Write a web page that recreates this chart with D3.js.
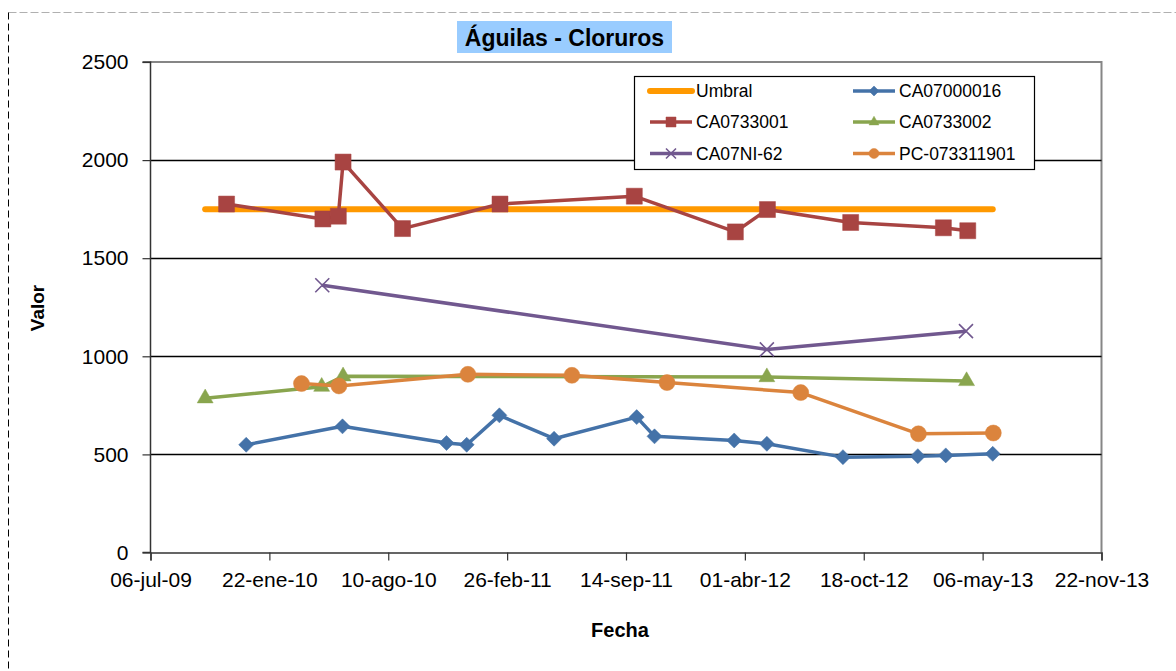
<!DOCTYPE html>
<html>
<head>
<meta charset="utf-8">
<script src="https://cdn.jsdelivr.net/npm/d3@7"></script>
<style>
  body { margin: 0; background: #fff; }
  text { font-family: "Liberation Sans", Arial, sans-serif; }
</style>
</head>
<body>
<div id="chart"></div>
<script>
(function () {

// ---- data ----
const xTicks = ["2009-07-06", "2010-01-22", "2010-08-10", "2011-02-26", "2011-09-14",
                "2012-04-01", "2012-10-18", "2013-05-06", "2013-11-22"];
const yTicks = [0, 500, 1000, 1500, 2000, 2500];

const umbralDates  = ["2009-10-06", "2013-05-23"];
const umbralValues = [1750, 1750];

const ca07000016Dates = ["2009-12-14", "2010-05-25", "2010-11-16", "2010-12-20", "2011-02-13",
                         "2011-05-16", "2011-10-02", "2011-11-01", "2012-03-14", "2012-05-08",
                         "2012-09-13", "2013-01-17", "2013-03-05", "2013-05-23"];
const ca07000016Values = [549, 643, 558, 549, 699, 580, 690, 592, 571, 554, 486, 491, 495, 503];

const ca0733001Dates = ["2009-11-11", "2010-04-22", "2010-05-18", "2010-05-26", "2010-09-03",
                        "2011-02-14", "2011-09-28", "2012-03-16", "2012-05-09", "2012-09-26",
                        "2013-03-01", "2013-04-11"];
const ca0733001Values = [1776, 1700, 1714, 1990, 1651, 1776, 1816, 1634, 1748, 1682, 1655, 1640];

const ca0733002Dates  = ["2009-10-06", "2010-04-20", "2010-05-26", "2012-05-08", "2013-04-09"];
const ca0733002Values = [786, 845, 898, 894, 874];

const ca07ni62Dates  = ["2010-04-21", "2012-05-08", "2013-04-08"];
const ca07ni62Values = [1362, 1035, 1128];

const pc073311901Dates  = ["2010-03-17", "2010-05-19", "2010-12-22", "2011-06-15", "2011-11-22",
                           "2012-07-04", "2013-01-18", "2013-05-24"];
const pc073311901Values = [861, 849, 908, 903, 866, 815, 605, 609];

const seriesNames = ["Umbral", "CA07000016", "CA0733001", "CA0733002", "CA07NI-62", "PC-073311901"];

// ---- layout ----
const W = 1176, H = 671;
const plot = {left: 150.5, right: 1101.5, top: 62, bottom: 552.5};

const parse = d3.utcParse("%Y-%m-%d");
const es = d3.timeFormatLocale({
  dateTime: "%A, %e de %B de %Y, %X", date: "%d/%m/%Y", time: "%H:%M:%S",
  periods: ["AM", "PM"],
  days: ["domingo", "lunes", "martes", "miércoles", "jueves", "viernes", "sábado"],
  shortDays: ["dom", "lun", "mar", "mié", "jue", "vie", "sáb"],
  months: ["enero", "febrero", "marzo", "abril", "mayo", "junio", "julio", "agosto",
           "septiembre", "octubre", "noviembre", "diciembre"],
  shortMonths: ["ene", "feb", "mar", "abr", "may", "jun", "jul", "ago", "sep", "oct", "nov", "dic"]
});
const fmt = es.utcFormat("%d-%b-%y");

const x = d3.scaleUtc()
  .domain([parse(xTicks[0]), parse(xTicks[xTicks.length - 1])])
  .range([plot.left, plot.right]);
const y = d3.scaleLinear().domain([0, 2500]).range([plot.bottom, plot.top]);

const zip = (ds, vs) => ds.map((d, i) => ({date: parse(d), value: vs[i]}));

// name, points, colour, line width, marker
const series = [
  {name: seriesNames[0], pts: zip(umbralDates, umbralValues), color: "#ff9900", lw: 6, marker: null},
  {name: seriesNames[1], pts: zip(ca07000016Dates, ca07000016Values), color: "#4472a8", lw: 3.5, marker: "diamond"},
  {name: seriesNames[2], pts: zip(ca0733001Dates, ca0733001Values), color: "#a84442", lw: 3.5, marker: "square"},
  {name: seriesNames[3], pts: zip(ca0733002Dates, ca0733002Values), color: "#89a54e", lw: 3.5, marker: "triangle"},
  {name: seriesNames[4], pts: zip(ca07ni62Dates, ca07ni62Values), color: "#71588f", lw: 3.5, marker: "x"},
  {name: seriesNames[5], pts: zip(pc073311901Dates, pc073311901Values), color: "#db843d", lw: 3.5, marker: "circle"}
];

const svg = d3.select("#chart").append("svg")
  .attr("width", W).attr("height", H);

// outer dashed frame (only top + left show)
svg.append("line").attr("x1", 8.5).attr("x2", W).attr("y1", 12.5).attr("y2", 12.5)
  .attr("stroke", "#b0b0b0").attr("stroke-width", 1).attr("stroke-dasharray", "8,3");
svg.append("line").attr("x1", 8.5).attr("x2", 8.5).attr("y1", 12.5).attr("y2", H)
  .attr("stroke", "#000").attr("stroke-width", 1).attr("stroke-dasharray", "7,4");

// plot area frame (top / right gray)
svg.append("path")
  .attr("d", `M${plot.left},${plot.top}H${plot.right}V${plot.bottom}`)
  .attr("fill", "none").attr("stroke", "#868686").attr("stroke-width", 2);

// gridlines
svg.append("g").selectAll("line")
  .data(yTicks.filter(v => v > 0 && v < 2500))
  .join("line")
  .attr("x1", plot.left).attr("x2", plot.right)
  .attr("y1", d => Math.round(y(d)) + 0.5).attr("y2", d => Math.round(y(d)) + 0.5)
  .attr("stroke", "#000").attr("stroke-width", 1.3);

// axes
const yAxis = svg.append("g")
  .attr("transform", `translate(${plot.left},0)`)
  .call(d3.axisLeft(y).tickValues(yTicks).tickFormat(d3.format("d")).tickSize(8).tickPadding(14));
const xAxis = svg.append("g")
  .attr("transform", `translate(0,${plot.bottom})`)
  .call(d3.axisBottom(x).tickValues(xTicks.map(parse)).tickFormat(fmt).tickSize(8).tickPadding(12));

[yAxis, xAxis].forEach(g => {
  g.select(".domain").attr("stroke", "#333").attr("stroke-width", 1.5);
  g.selectAll(".tick line").attr("stroke", "#333").attr("stroke-width", 1.2);
  g.selectAll("text").attr("font-size", 21).attr("fill", "#000")
    .style("font-family", "'Liberation Sans', Arial, sans-serif");
});
yAxis.select(".domain").attr("d", `M-8,${plot.bottom}H0V${plot.top}H-8`);

// marker path builder
function markerPath(kind, s) {
  switch (kind) {
    case "diamond":  return d3.symbol(d3.symbolSquare, (s * s) / 2)();
    case "square":   return d3.symbol(d3.symbolSquare, s * s)();
    case "triangle": return d3.symbol(d3.symbolTriangle, s * s * 0.43)();
    case "circle":   return d3.symbol(d3.symbolCircle, Math.PI * s * s / 4)();
    case "x": {
      const h = s / 2;
      return `M${-h},${-h}L${h},${h}M${-h},${h}L${h},${-h}`;
    }
  }
  return "";
}
function drawMarker(g, kind, color, s, cx, cy) {
  g.append("path")
    .attr("d", markerPath(kind, s))
    .attr("transform", `translate(${cx},${cy})` + (kind === "diamond" ? " rotate(45)" : ""))
    .attr("fill", kind === "x" ? "none" : color)
    .attr("stroke", color)
    .attr("stroke-width", kind === "x" ? 1.6 : 0.5);
}

const line = d3.line().x(d => x(d.date)).y(d => y(d.value));

series.forEach(s => {
  const g = svg.append("g");
  g.append("path")
    .datum(s.pts)
    .attr("d", line)
    .attr("fill", "none")
    .attr("stroke", s.color)
    .attr("stroke-width", s.lw)
    .attr("stroke-linecap", s.marker ? "butt" : "round")
    .attr("stroke-linejoin", "round");
  if (s.marker) {
    const size = {diamond: 15, square: 16, triangle: 16, circle: 16, x: 14}[s.marker];
    s.pts.forEach(p => drawMarker(g, s.marker, s.color, size, x(p.date), y(p.value)));
  }
});

// legend
const legend = svg.append("g");
legend.append("rect")
  .attr("x", 634.5).attr("y", 76.5).attr("width", 400).attr("height", 93)
  .attr("fill", "#fff").attr("stroke", "#000").attr("stroke-width", 1.2);
const colX = [650, 853], rowY = [91, 122, 153.5];
series.forEach((s, i) => {
  const lx = colX[i % 2], ly = rowY[Math.floor(i / 2)];
  legend.append("line")
    .attr("x1", lx).attr("x2", lx + 42).attr("y1", ly).attr("y2", ly)
    .attr("stroke", s.color).attr("stroke-width", s.lw)
    .attr("stroke-linecap", s.marker ? "butt" : "round");
  if (s.marker) drawMarker(legend, s.marker, s.color, 10, lx + 21, ly);
  legend.append("text")
    .attr("x", lx + 46).attr("y", ly).attr("dy", "0.36em")
    .attr("font-size", 17.5).attr("fill", "#000")
    .text(s.name);
});

// title
svg.append("rect").attr("x", 457).attr("y", 21).attr("width", 215).attr("height", 32)
  .attr("fill", "#99ccff");
svg.append("text").attr("x", 564.5).attr("y", 45.5)
  .attr("text-anchor", "middle").attr("font-size", 23).attr("font-weight", "bold")
  .attr("fill", "#000").text("Águilas - Cloruros");

// axis titles
svg.append("text").attr("transform", "translate(44,308) rotate(-90)")
  .attr("text-anchor", "middle").attr("font-size", 19).attr("font-weight", "bold")
  .text("Valor");
svg.append("text").attr("x", 620).attr("y", 637)
  .attr("text-anchor", "middle").attr("font-size", 20).attr("font-weight", "bold")
  .text("Fecha");

})();
</script>
</body>
</html>
